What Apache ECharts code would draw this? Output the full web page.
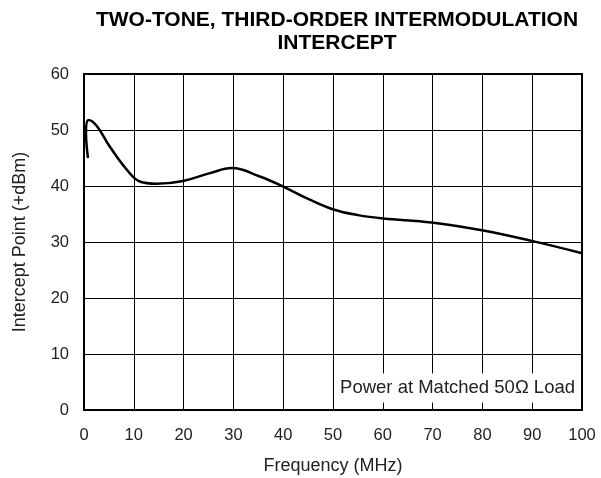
<!DOCTYPE html>
<html>
<head>
<meta charset="utf-8">
<script src="https://cdn.jsdelivr.net/npm/echarts@6/dist/echarts.min.js"></script>
<style>html,body{margin:0;padding:0;background:#fff}#c{width:601px;height:478px}</style>
</head>
<body>
<div id="c"></div>
<script>
var frequency = [0.8, 0.4, 0.9, 2.5, 5.2, 8.6, 11.2, 14.6, 19.9, 25.3, 29.7, 35.3, 40.0, 45.0, 50.1, 55.0, 60.1, 69.8, 79.9, 89.9, 100];
var intercept = [45.0, 49.5, 51.8, 50.8, 47.0, 42.9, 40.8, 40.4, 40.9, 42.3, 43.2, 41.7, 39.9, 37.7, 35.8, 34.8, 34.2, 33.5, 32.1, 30.2, 28.0];
var xTicks = [0, 10, 20, 30, 40, 50, 60, 70, 80, 90, 100];
var yTicks = [0, 10, 20, 30, 40, 50, 60];
var titleText = 'TWO-TONE, THIRD-ORDER INTERMODULATION\nINTERCEPT';
var noteText = 'Power at Matched 50\u03A9 Load';

var pts = frequency.map(function (f, i) { return [f, intercept[i]]; });
var font = 'Liberation Sans, Arial, sans-serif';
var chart = echarts.init(document.getElementById('c'), null, {renderer: 'canvas'});
chart.setOption({
  backgroundColor: '#fff',
  animation: false,
  title: [{
    text: titleText,
    left: 332, top: 4, textAlign: 'center',
    textStyle: {fontFamily: font, fontSize: 21, fontWeight: 'bold', color: '#000', lineHeight: 23}
  }, {
    text: noteText,
    right: 21, top: 374,
    backgroundColor: '#fff',
    padding: [5, 5, 5, 5],
    textStyle: {fontFamily: font, fontSize: 18.5, fontWeight: 'normal', color: '#222', lineHeight: 18}
  }],
  grid: {left: 84, right: 19, top: 74, bottom: 68, show: true, borderColor: '#000', borderWidth: 2, outerBoundsMode: 'none'},
  xAxis: {
    type: 'value', min: 0, max: 100, interval: 10,
    name: 'Frequency (MHz)', nameLocation: 'middle', nameGap: 47,
    nameTextStyle: {fontFamily: font, fontSize: 18, color: '#222'},
    axisLine: {show: false}, axisTick: {show: false},
    axisLabel: {fontFamily: font, fontSize: 16.5, color: '#222', margin: 17,
      formatter: function (v) { return xTicks.indexOf(v) >= 0 ? String(v) : ''; }},
    splitLine: {show: true, lineStyle: {color: '#000', width: 1}}
  },
  yAxis: {
    type: 'value', min: 0, max: 60, interval: 10,
    name: 'Intercept Point (+dBm)', nameLocation: 'middle', nameGap: 55,
    nameTextStyle: {fontFamily: font, fontSize: 18, color: '#222'},
    axisLine: {show: false}, axisTick: {show: false},
    axisLabel: {fontFamily: font, fontSize: 16.5, color: '#222', margin: 15,
      formatter: function (v) { return yTicks.indexOf(v) >= 0 ? String(v) : ''; }},
    splitLine: {show: true, lineStyle: {color: '#000', width: 1}}
  },
  series: [{
    type: 'line', data: pts, smooth: 0.4, showSymbol: false,
    lineStyle: {color: '#000', width: 2.5}, z: 3
  }]
});
</script>
</body>
</html>
